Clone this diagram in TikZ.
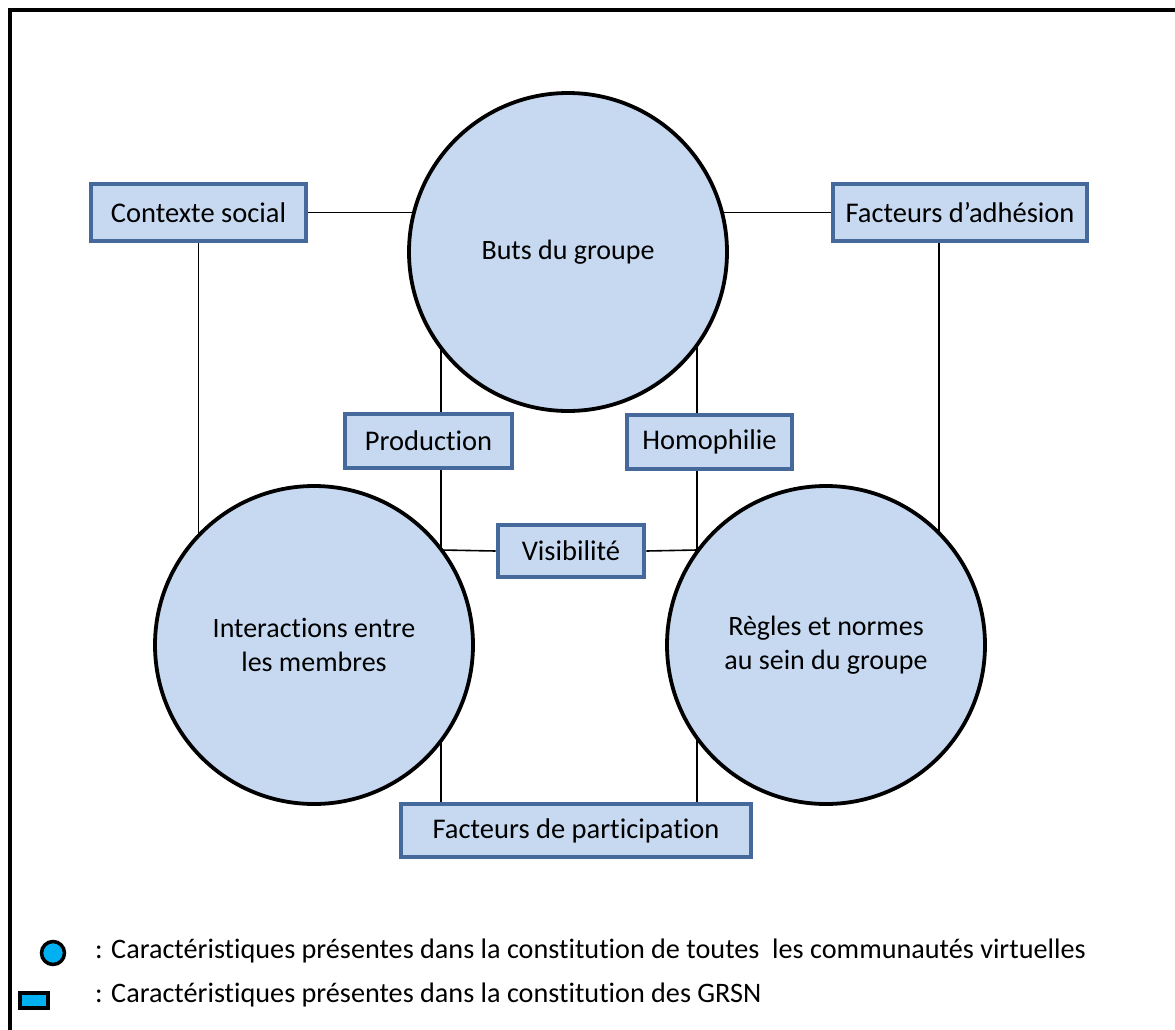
\documentclass[tikz,border=0pt]{standalone}
\usepackage{fontspec}
\setmainfont{Carlito}[RawFeature={-liga;-clig;-calt;-dlig}]
\usetikzlibrary{backgrounds}
\definecolor{fillblue}{HTML}{C6D9F1}
\definecolor{boxborder}{HTML}{44699A}
\definecolor{legblue}{HTML}{00B0F0}
\tikzset{
  x=1pt,y=-1pt,
  bigcircle/.style={circle,draw=black,line width=3.8pt,fill=fillblue,minimum size=318pt,inner sep=0pt,align=center,font=\fontsize{28}{34}\selectfont},
  gbox/.style={rectangle,draw=boxborder,line width=4.8pt,fill=fillblue,inner sep=0pt,font=\fontsize{28.5}{34}\selectfont},
  conn/.style={draw=black,line width=1.6pt},
  legtext/.style={anchor=west,inner sep=0pt,font=\fontsize{28.2}{34}\selectfont},
}
\begin{document}
\begin{tikzpicture}
\useasboundingbox (0,0) rectangle (1175,1030);
% frame
\draw[line width=4.5pt] (10,1030) -- (10,10) -- (1175,10);
% circles
\node[bigcircle] (buts) at (568,252) {Buts du groupe};
\node[bigcircle] (inter) at (314,645) {Interactions entre\\les membres};
\node[bigcircle] (regles) at (826,645) {Règles et normes\\au sein du groupe};
% boxes
\node[gbox,minimum width=215pt,minimum height=57pt] (ctx) at (198.5,212.5) {Contexte social};
\node[gbox,minimum width=254pt,minimum height=57pt] (adh) at (960,212.5) {Facteurs d’adhésion};
\node[gbox,minimum width=167pt,minimum height=54pt] (prod) at (428.5,441) {Production};
\node[gbox,minimum width=165pt,minimum height=54pt] (homo) at (709.5,442) {Homophilie};
\node[gbox,minimum width=146pt,minimum height=52pt] (vis) at (571,551) {Visibilité};
\node[gbox,minimum width=350pt,minimum height=53pt] (part) at (576,830.5) {Facteurs de participation};
% helper coordinates
\coordinate (cl) at (441,550);
\coordinate (cr) at (697,550);
\coordinate (ca) at (939,0);
% connectors (behind)
\begin{scope}[on background layer]
\draw[conn] (ctx.east) -- (ctx.east -| buts.center);
\draw[conn] (adh.west) -- (adh.west -| buts.center);
\draw[conn] (ctx.south) -- (ctx.south |- inter.center);
\draw[conn] (adh.south -| ca) -- (regles.center -| ca);
\draw[conn] (buts.center -| cl) -- (part.center -| cl);
\draw[conn] (buts.center -| cr) -- (part.center -| cr);
\draw[conn] (cl) -- (vis.west);
\draw[conn] (vis.east) -- (cr);
\end{scope}
% legend
\node[circle,draw=black,line width=3.5pt,fill=legblue,minimum size=23pt,inner sep=0pt] (legc) at (53,953) {};
\node[rectangle,draw=black,line width=4pt,fill=legblue,minimum width=28pt,minimum height=15pt,inner sep=0pt] (legr) at (34,1000) {};
\node[legtext] (lt1) at (95,951) {: Caractéristiques présentes dans la constitution de toutes\ \ les communautés virtuelles};
\node[legtext] (lt2) at (95,995) {: Caractéristiques présentes dans la constitution des GRSN};
\end{tikzpicture}
\end{document}
